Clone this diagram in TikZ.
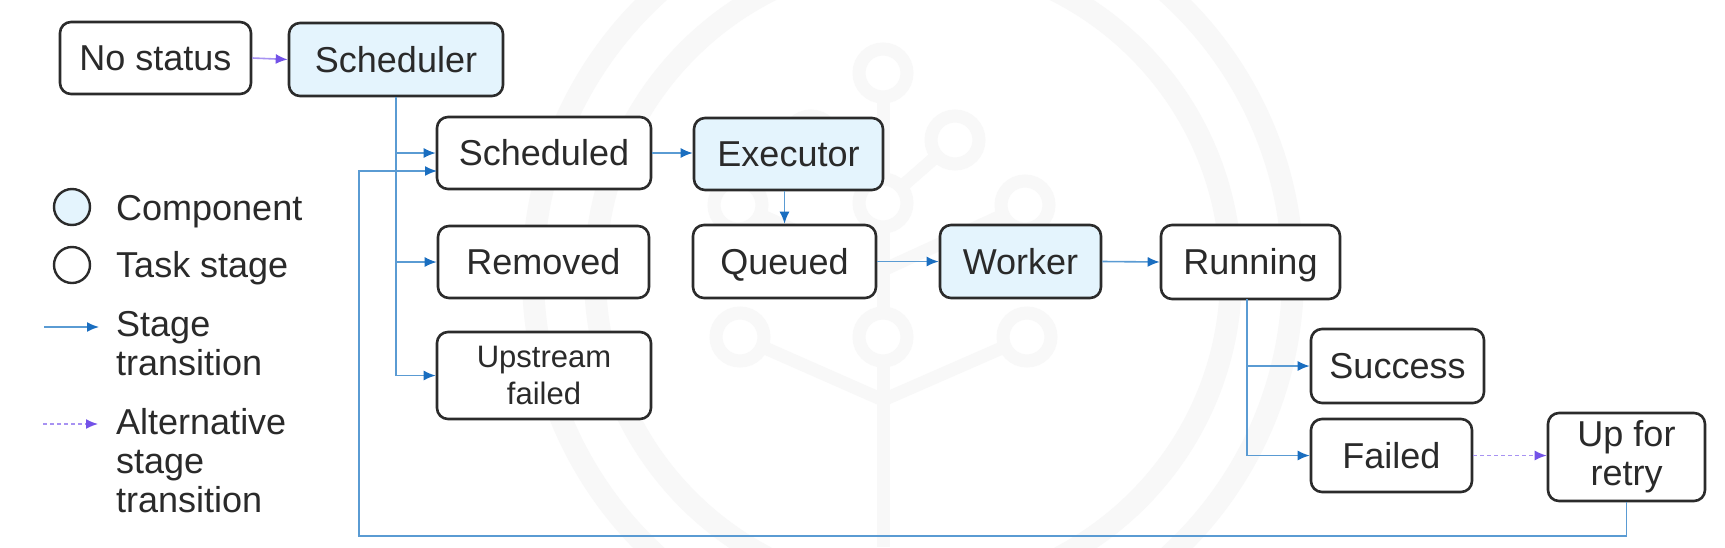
\documentclass[tikz,border=0pt]{standalone}
\usepackage{fontspec}
\setmainfont{Liberation Sans}
\usetikzlibrary{arrows.meta}
\definecolor{boxline}{HTML}{2B2B2B}
\definecolor{compfill}{HTML}{E4F4FD}
\definecolor{linkblue}{HTML}{5A9BD3}
\definecolor{tipblue}{HTML}{1A6EC0}
\definecolor{linkpurple}{HTML}{A792F2}
\definecolor{tippurple}{HTML}{7352E8}
\definecolor{txt}{HTML}{2A2A2A}
\definecolor{wm}{HTML}{F8F8F8}
\begin{document}
\begin{tikzpicture}[x=1pt,y=-1pt,
  stagebox/.style={draw=boxline, line width=2.6pt, rounded corners=11pt, fill=white,
    text=txt, font=\fontsize{36}{39}\selectfont, align=center, inner sep=0pt},
  oneline/.style={text height=25.8pt, text depth=0pt},
  compbox/.style={stagebox, fill=compfill},
  smalltext/.style={font=\fontsize{31}{37}\selectfont},
  legendtext/.style={text=txt, font=\fontsize{36}{39}\selectfont, align=left, inner sep=0pt},
  legendmark/.style={circle, draw=boxline, line width=2.4pt, minimum size=36pt, inner sep=0pt},
  link/.style={draw=linkblue, line width=1.6pt},
  arr/.style={link, -{Latex[length=12pt,width=10pt,color=tipblue]}},
  altarr/.style={draw=linkpurple, line width=1.6pt, -{Latex[length=12pt,width=10pt,color=tippurple]}},
  altdash/.style={altarr, dash pattern=on 4pt off 3pt},
  wmline/.style={draw=wm, line width=13pt},
  wmring/.style={draw=wm, line width=13pt, fill=white}
]
\useasboundingbox (0,0) rectangle (1725,547);
\fill[white] (0,0) rectangle (1725,547);

% faint watermark
\draw[draw=wm, line width=22pt] (913,275) circle[radius=380pt];
\draw[draw=wm, line width=22pt] (913,275) circle[radius=318pt];
\draw[wmline] (883,100) -- (883,547);
\draw[wmline] (883,203) -- (811,140);
\draw[wmline] (883,203) -- (955,140);
\draw[wmline] (883,270) -- (738,205);
\draw[wmline] (883,270) -- (1025,205);
\draw[wmline] (883,400) -- (740,337);
\draw[wmline] (883,400) -- (1027,337);
\foreach \p in {(883,73),(811,140),(955,140),(738,205),(883,203),(1025,205),(740,337),(883,337),(1027,337)}
  \draw[wmring] \p circle[radius=24pt];

% nodes
\node[stagebox, oneline, minimum width=191pt, minimum height=72pt] (nostatus) at (155.5,58) {No status};
\node[compbox, oneline, minimum width=214pt, minimum height=73pt] (scheduler) at (396,59.5) {Scheduler};
\node[stagebox, oneline, minimum width=214pt, minimum height=72pt] (scheduled) at (544,153) {Scheduled};
\node[compbox, oneline, minimum width=189pt, minimum height=72pt] (executor) at (788.5,154) {Executor};
\node[stagebox, oneline, minimum width=211pt, minimum height=72pt] (removed) at (543.5,262) {Removed};
\node[stagebox, smalltext, minimum width=214pt, minimum height=87pt] (upstream) at (544,375.5) {Upstream\\failed};
\node[stagebox, oneline, minimum width=183pt, minimum height=73pt] (queued) at (784.5,261.5) {Queued};
\node[compbox, oneline, minimum width=161pt, minimum height=73pt] (worker) at (1020.5,261.5) {Worker};
\node[stagebox, oneline, minimum width=179pt, minimum height=74pt] (running) at (1250.5,262) {Running};
\node[stagebox, oneline, minimum width=173pt, minimum height=74pt] (success) at (1397.5,366) {Success};
\node[stagebox, oneline, minimum width=161pt, minimum height=73pt] (failed) at (1391.5,455.5) {Failed};
\node[stagebox, minimum width=157pt, minimum height=88pt] (retry) at (1626.5,457) {Up for\\retry};

% connectors
\draw[altarr] (nostatus.east) -- (scheduler.west);
\draw[arr] (scheduler.south) |- (upstream.west);
\draw[arr] (scheduler.south |- scheduled.west) -- (scheduled.west);
\draw[arr] (scheduler.south |- removed.west) -- (removed.west);
\draw[arr] (scheduled.east) -- (executor.west |- scheduled.east);
\draw[arr] (executor.south -| queued.north) -- (queued.north);
\draw[arr] (queued.east) -- (worker.west);
\draw[arr] (worker.east) -- (running.west);
\coordinate (rundrop) at (1247,299);
\draw[arr] (rundrop) |- (failed.west);
\draw[arr] (rundrop |- success.west) -- (success.west);
\draw[altdash] (failed.east) -- (failed.east -| retry.west);
\coordinate (loopbot) at (359,536);
\coordinate (schin) at (437,171);
\draw[arr] (retry.south) |- (loopbot) |- (schin);

% legend
\node[legendmark, fill=compfill] (lgcomp) at (72,207) {};
\node[legendtext, anchor=base west] (lgcomptxt) at (116,220) {Component};
\node[legendmark, fill=white] (lgtask) at (72,265) {};
\node[legendtext, anchor=base west] (lgtasktxt) at (116,277) {Task stage};
\coordinate (lgsa) at (44,327);
\coordinate (lgsb) at (99,327);
\draw[arr] (lgsa) -- (lgsb);
\node[legendtext, anchor=north west] (lgstxt) at (116,311) {Stage\\transition};
\coordinate (lgaa) at (43,424);
\coordinate (lgab) at (98,424);
\draw[altdash] (lgaa) -- (lgab);
\node[legendtext, anchor=north west] (lgatxt) at (116,408) {Alternative\\stage\\transition};
\end{tikzpicture}
\end{document}
